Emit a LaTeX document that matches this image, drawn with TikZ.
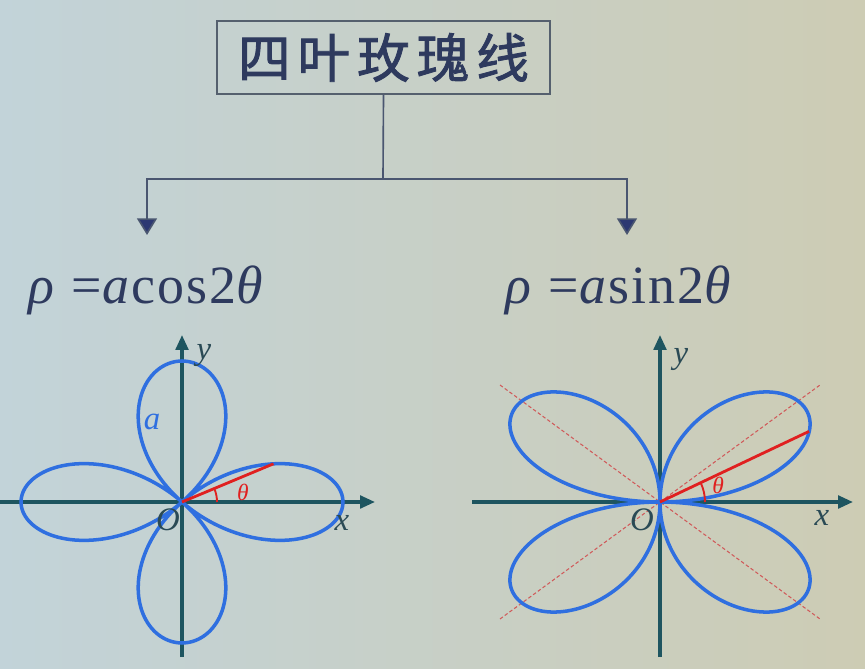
\documentclass[tikz,border=0pt]{standalone}
\usepackage{fontspec}
\usepackage{tikz}
\usepackage{xcolor}
\usetikzlibrary{arrows,arrows.meta}
\newfontfamily\cjkfont[LetterSpace=13, FakeBold=1.6]{Noto Sans CJK SC}
\newfontfamily\formfont[LetterSpace=4]{Liberation Serif}
\definecolor{navy}{HTML}{2E3A5E}
\definecolor{linegray}{HTML}{4A5670}
\definecolor{headnavy}{HTML}{2C3872}
\definecolor{boxgray}{HTML}{55606E}
\definecolor{axisteal}{HTML}{1E5560}
\definecolor{labelteal}{HTML}{2A4A55}
\definecolor{roseblue}{HTML}{2F6FE0}
\definecolor{radred}{HTML}{E02020}
\definecolor{dotred}{HTML}{D05A5A}
\definecolor{bgleft}{HTML}{C2D3D9}
\definecolor{bgmid}{HTML}{C4D4D6}
\definecolor{bgright}{HTML}{CDCCB4}
\tikzset{
  titlebox/.style = {draw=boxgray, line width=1.2pt, inner sep=0pt,
    minimum width=9.99cm, minimum height=2.19cm, text=navy,
    font=\cjkfont\fontsize{45}{50}\selectfont},
  formula/.style = {inner sep=0pt, text=navy,
    font=\formfont\fontsize{46}{50}\selectfont},
  branch/.style = {draw=linegray, line width=1.4pt,
    >={Triangle[width=0.6cm, length=0.5cm, fill=headnavy]}},
  axisline/.style = {-{Triangle[width=0.38cm, length=0.45cm]}, draw=axisteal, fill=axisteal, line width=2.8pt},
  petal/.style = {draw=roseblue, line width=3pt},
  radline/.style = {draw=radred, line width=2.4pt},
  anglearc/.style = {draw=radred, line width=1.6pt},
  diag/.style = {draw=dotred, line width=0.9pt, densely dashed},
  axislabel/.style = {text=labelteal, inner sep=0pt,
    font=\formfont\itshape\fontsize{28}{30}\selectfont}}

\begin{document}
\begin{tikzpicture}[x=0.03cm, y=0.03cm]

    % background
    \shade[left color=bgleft, middle color=bgmid, right color=bgright] (0,0) rectangle (865,668);
    \useasboundingbox (0,0) rectangle (865,668);

    % title and the two equations
    \node[titlebox] (title) at (383.5,610.5) {四叶玫瑰线};
    \node[formula, anchor=north west] (cosform) at (28,402) {\textit{ρ} =\textit{a}cos2\textit{θ}};
    \node[formula, anchor=north west] (sinform) at (505,402) {\textit{ρ} =\textit{a}sin2\textit{θ}};

    % branches
    \coordinate (fork) at (383,489);
    \coordinate (costip) at (147,433);
    \coordinate (sintip) at (627,433);
    \draw[branch] (title.south) -- (fork);
    \draw[branch, ->] (fork) -| (costip);
    \draw[branch, ->] (fork) -| (sintip);

    % rho = a cos 2theta
    \begin{scope}[shift={(182,166)}]
        \coordinate (O1) at (0,0);
        \draw[axisline] (-182,0) -- (193,0);
        \draw[axisline] (0,-155) -- (0,167);
        \draw[petal] plot[domain=0:360, samples=181, smooth] ({161*cos(2*\x)*cos(\x)}, {141*cos(2*\x)*sin(\x)});
        \coordinate (P1) at (91.5,38.2);
        \draw[radline] (O1) -- (P1);
        \draw[anglearc] (35,0) arc[start angle=0, end angle=22.7, radius=35];
        \node[axislabel] (y1) at (22,146) {y};
        \node[axislabel] (x1) at (160,-21) {x};
        \node[axislabel] (o1) at (-14,-18) {O};
        \node[axislabel, text=roseblue] (a1) at (-30,80) {a};
        \node[axislabel, text=radred, font=\formfont\itshape\fontsize{20}{22}\selectfont] (t1) at (61,10) {θ};
    \end{scope}

    % rho = a sin 2theta
    \begin{scope}[shift={(660,166)}]
        \coordinate (O2) at (0,0);
        \draw[diag] (-160,117) -- (160,-117);
        \draw[diag] (-160,-117) -- (160,117);
        \draw[axisline] (-188,0) -- (193,0);
        \draw[axisline] (0,-155) -- (0,167);
        \draw[petal] plot[domain=0:360, samples=181, smooth] ({195*sin(2*\x)*cos(\x)}, {143*sin(2*\x)*sin(\x)});
        \coordinate (P2) at (149,70.6);
        \draw[radline] (O2) -- (P2);
        \draw[anglearc] (45,0) arc[start angle=0, end angle=25.3, radius=45];
        \node[axislabel] (y2) at (21,142) {y};
        \node[axislabel] (x2) at (162,-16) {x};
        \node[axislabel] (o2) at (-18,-18) {O};
        \node[axislabel, text=radred, font=\formfont\itshape\fontsize{20}{22}\selectfont] (t2) at (58,17) {θ};
    \end{scope}

\end{tikzpicture}
\end{document}
